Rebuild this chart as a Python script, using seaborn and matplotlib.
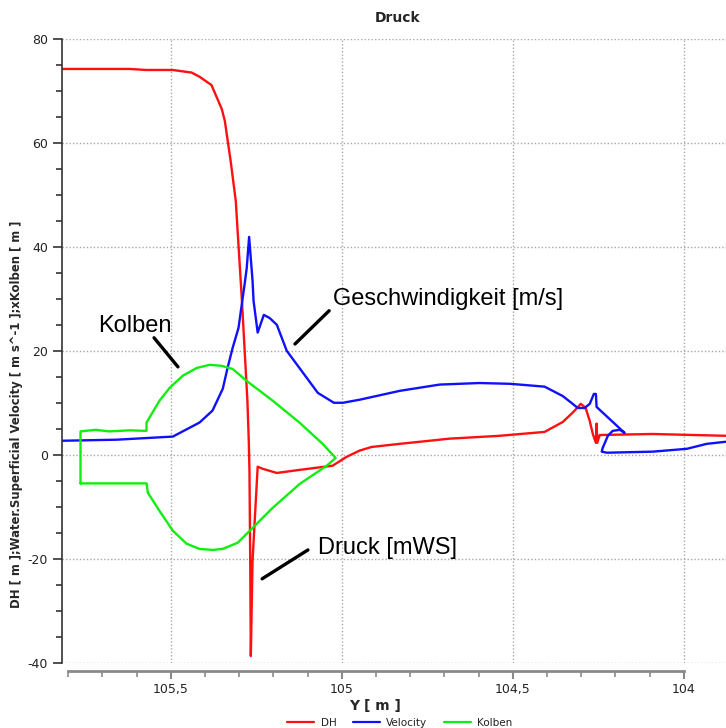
import matplotlib
matplotlib.use('Agg')
import matplotlib.pyplot as plt
from matplotlib.ticker import MultipleLocator, FixedLocator, FuncFormatter
from matplotlib.lines import Line2D
import seaborn as sns

# DH curve (red)
dh_x = [105.816, 105.620, 105.573, 105.494, 105.439, 105.416, 105.381, 105.351, 105.342,
        105.325, 105.310, 105.301, 105.292, 105.284, 105.276, 105.272, 105.270, 105.268,
        105.266, 105.261, 105.246, 105.231, 105.190, 105.123, 105.027, 104.986, 104.948,
        104.913, 104.831, 104.685, 104.538, 104.407, 104.354, 104.325, 104.301, 104.287,
        104.275, 104.266, 104.257, 104.255, 104.253, 104.246, 104.091, 103.878]
dh_y = [74.3, 74.3, 74.1, 74.1, 73.6, 72.8, 71.2, 66.6, 64.3,
        56.6, 48.9, 39.3, 29.7, 20.1, 10.5, 2.8, -3.0, -18.4,
        -38.6, -20.3, -2.2, -2.6, -3.4, -2.8, -2.0, -0.3, 0.9,
        1.6, 2.2, 3.2, 3.75, 4.5, 6.4, 8.2, 9.9, 9.1,
        6.6, 4.1, 2.4, 6.1, 2.4, 3.9, 4.1, 3.75]

# Velocity curve (blue)
vel_x = [105.816, 105.658, 105.494, 105.416, 105.378, 105.348, 105.334, 105.319, 105.302,
         105.284, 105.278, 105.271, 105.261, 105.258, 105.246, 105.228, 105.211, 105.190,
         105.161, 105.070, 105.023, 104.997, 104.947, 104.830, 104.714, 104.597, 104.509,
         104.480, 104.407, 104.354, 104.325, 104.310, 104.290, 104.275, 104.263, 104.257,
         104.255, 104.173, 104.187, 104.208, 104.222, 104.237, 104.240, 104.225, 104.091,
         103.991, 103.933, 103.878]
vel_y = [2.8, 3.0, 3.6, 6.3, 8.6, 12.8, 16.8, 20.7, 24.5,
         33.0, 36.0, 42.0, 33.6, 29.7, 23.6, 27.0, 26.4, 25.1,
         20.1, 12.0, 10.1, 10.1, 10.7, 12.4, 13.6, 13.9, 13.75,
         13.6, 13.2, 11.4, 9.9, 9.1, 9.1, 9.9, 11.8, 11.8,
         9.3, 4.3, 4.9, 4.7, 3.75, 1.45, 0.7, 0.5, 0.7,
         1.25, 2.2, 2.6]

# Kolben outline (green, closed)
kol_x = [105.764, 105.764, 105.72, 105.68, 105.62, 105.571, 105.571, 105.533, 105.503,
         105.465, 105.424, 105.386, 105.351, 105.319, 105.278, 105.202, 105.123, 105.056,
         105.018, 105.044, 105.123, 105.202, 105.269, 105.304, 105.348, 105.377, 105.416,
         105.454, 105.494, 105.533, 105.567, 105.571, 105.764]
kol_y = [-5.4, 4.6, 4.9, 4.6, 4.8, 4.7, 6.3, 10.5, 13.0,
         15.3, 16.8, 17.4, 17.2, 16.6, 14.3, 10.5, 6.25, 2.2,
         -0.5, -2.0, -5.5, -10.1, -14.5, -16.8, -18.0, -18.2, -18.0,
         -17.0, -14.5, -10.7, -7.2, -5.4, -5.4]

series_names = ['DH', 'Velocity', 'Kolben']
series_colors = ['#ff1010', '#1010ff', '#10ee10']

sns.set_style('white')
plt.rcParams['font.family'] = ['DejaVu Sans']
plt.rcParams['axes.unicode_minus'] = False

fig = plt.figure(figsize=(7.26, 7.28), dpi=100)
ax = fig.add_axes([61.7 / 726, 1 - 663.3 / 728, 664.3 / 726, 624 / 728])

for xs, ys, name, col in zip([dh_x, vel_x, kol_x], [dh_y, vel_y, kol_y], series_names, series_colors):
    sns.lineplot(x=xs, y=ys, sort=False, estimator=None, color=col, lw=1.7, ax=ax, label=name)
ax.get_legend().remove()

ax.set_xlim(105.819, 105.819 - 664.3 / 342)
ax.set_ylim(-40, 80)
ax.xaxis.set_major_locator(FixedLocator([105.5, 105.0, 104.5, 104.0]))
ax.xaxis.set_minor_locator(FixedLocator([round(105.8 - 0.1 * i, 1) for i in range(19)]))
ax.yaxis.set_major_locator(MultipleLocator(20))
ax.yaxis.set_minor_locator(MultipleLocator(5))
ax.xaxis.set_major_formatter(FuncFormatter(lambda v, p: f'{v:g}'.replace('.', ',')))
ax.grid(True, which='major', ls=(0, (1, 1.5)), color='#a8a8a8', lw=1)

for s in ['top', 'right']:
    ax.spines[s].set_visible(False)
ax.spines['bottom'].set_position(('outward', 5.5))
ax.spines['bottom'].set_bounds(105.8, 104)
ax.spines['bottom'].set_color('#8a8a8a')
ax.spines['bottom'].set_linewidth(2)
ax.spines['left'].set_color('#333333')
ax.spines['left'].set_linewidth(1.2)
ax.spines['left'].set_bounds(-40, 80)

ax.tick_params(axis='x', which='major', direction='out', length=6, width=1.5, color='#8a8a8a',
               labelsize=9, labelcolor='#222222', pad=3, bottom=True)
ax.tick_params(axis='x', which='minor', direction='out', length=4, width=1.2, color='#8a8a8a', bottom=True)
ax.tick_params(axis='y', which='major', direction='out', length=6.5, width=1.2, color='#333333',
               labelsize=9, labelcolor='#222222', pad=3.5, left=True)
ax.tick_params(axis='y', which='minor', direction='out', length=4, width=1.2, color='#333333', left=True)

ax.set_xlabel('Y [ m ]', fontsize=10, fontweight='bold', va='center')
ax.xaxis.set_label_coords((375 - 61.7) / 664.3, (663.3 - 706) / 624)
ax.set_ylabel('DH [ m ];Water.Superficial Velocity [ m s^-1 ];xKolben [ m ]',
              fontsize=8.4, fontweight='bold', va='center')
ax.yaxis.set_label_coords((17 - 61.7) / 664.3, (663.3 - 414) / 624)

fig.text(398 / 726, 1 - 18 / 728, 'Druck', ha='center', va='center', fontsize=10, fontweight='bold')

# text annotations with leader lines
ann_font = dict(fontsize=17, family=['Liberation Sans', 'DejaVu Sans'], color='black')
ax.text(105.713, 23.8, 'Kolben', ha='left', va='baseline', **ann_font)
ax.annotate('', xy=(105.479, 17.0), xytext=(105.549, 22.6),
            arrowprops=dict(arrowstyle='-', lw=2.4, color='black', shrinkA=0, shrinkB=0))
ax.text(105.0257, 28.9, 'Geschwindigkeit [m/s]', ha='left', va='baseline', **ann_font)
ax.annotate('', xy=(105.137, 21.4), xytext=(105.037, 27.8),
            arrowprops=dict(arrowstyle='-', lw=2.4, color='black', shrinkA=0, shrinkB=0))
ax.text(105.069, -18.9, 'Druck [mWS]', ha='left', va='baseline', **ann_font)
ax.annotate('', xy=(105.233, -23.75), xytext=(105.099, -18.2),
            arrowprops=dict(arrowstyle='-', lw=2.4, color='black', shrinkA=0, shrinkB=0))

handles = [Line2D([], [], color=c, lw=1.6) for c in series_colors]
fig.legend(handles, series_names, loc='center', bbox_to_anchor=(400 / 726, 1 - 723 / 728),
           ncol=3, frameon=False, fontsize=7.5, handlelength=2.6, handletextpad=0.6,
           columnspacing=1.6, labelcolor='#222222')

fig.savefig('out.png', dpi=100)
